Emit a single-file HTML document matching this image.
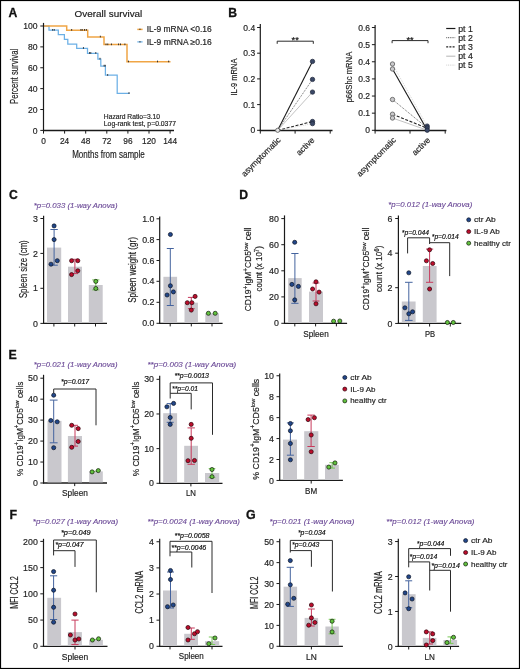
<!DOCTYPE html><html><head><meta charset="utf-8"><style>html,body{margin:0;padding:0;background:#fff}svg{display:block;will-change:transform}text{font-family:"Liberation Sans", sans-serif}</style></head><body>
<svg width="520" height="669" viewBox="0 0 520 669">
<rect x="0" y="0" width="520" height="669" fill="#fff"/>
<text x="8.60" y="17.30" font-size="12.2" fill="#111" font-weight="bold" stroke="#111" stroke-width="0.3">A</text>
<text x="74.60" y="16.90" font-size="9.8" fill="#1a1a1a" textLength="67.70" lengthAdjust="spacingAndGlyphs" stroke="#1a1a1a" stroke-width="0.18">Overall survival</text>
<path d="M43.5 26.0 L49.0 26.0 L49.0 30.2 L58.3 30.2 L58.3 34.5 L64.4 34.5 L64.4 39.4 L67.8 39.4 L67.8 44.0 L76.7 44.0 L76.7 48.4 L87.5 48.4 L87.5 53.3 L97.9 53.3 L97.9 59.0 L100.8 59.0 L100.8 66.0 L105.4 66.0 L105.4 75.2 L117.2 75.2 L117.2 93.3 L129.6 93.3" stroke="#6cb0e6" stroke-width="1.25" fill="none"/>
<path d="M43.5 26.0 L66.7 26.0 L66.7 30.2 L87.7 30.2 L87.7 36.9 L104.0 36.9 L104.0 44.6 L127.0 44.6 L127.0 61.7 L170.5 61.7" stroke="#f0a545" stroke-width="1.5" fill="none"/>
<rect x="52.25" y="29.00" width="0.90" height="1.70" fill="#222"/>
<rect x="53.75" y="29.00" width="0.90" height="1.70" fill="#222"/>
<rect x="71.25" y="29.00" width="0.90" height="1.70" fill="#222"/>
<rect x="80.45" y="29.00" width="0.90" height="1.70" fill="#222"/>
<rect x="81.75" y="29.00" width="0.90" height="1.70" fill="#222"/>
<rect x="84.05" y="29.00" width="0.90" height="1.70" fill="#222"/>
<rect x="85.85" y="29.00" width="0.90" height="1.70" fill="#222"/>
<rect x="99.85" y="35.70" width="0.90" height="1.70" fill="#222"/>
<rect x="105.55" y="43.50" width="0.90" height="1.70" fill="#222"/>
<rect x="107.35" y="43.50" width="0.90" height="1.70" fill="#222"/>
<rect x="110.95" y="43.50" width="0.90" height="1.70" fill="#222"/>
<rect x="118.15" y="43.50" width="0.90" height="1.70" fill="#222"/>
<rect x="120.05" y="43.50" width="0.90" height="1.70" fill="#222"/>
<rect x="124.45" y="43.50" width="0.90" height="1.70" fill="#222"/>
<rect x="127.95" y="60.60" width="0.90" height="1.70" fill="#222"/>
<rect x="157.05" y="60.60" width="0.90" height="1.70" fill="#222"/>
<rect x="168.25" y="60.60" width="0.90" height="1.70" fill="#222"/>
<rect x="82.95" y="47.10" width="0.90" height="1.70" fill="#222"/>
<rect x="89.15" y="52.10" width="0.90" height="1.70" fill="#222"/>
<rect x="90.35" y="52.10" width="0.90" height="1.70" fill="#222"/>
<rect x="95.35" y="52.10" width="0.90" height="1.70" fill="#222"/>
<rect x="99.55" y="57.80" width="0.90" height="1.70" fill="#222"/>
<rect x="103.65" y="64.80" width="0.90" height="1.70" fill="#222"/>
<rect x="104.75" y="64.80" width="0.90" height="1.70" fill="#222"/>
<rect x="107.25" y="74.10" width="0.90" height="1.70" fill="#222"/>
<rect x="128.55" y="92.20" width="0.90" height="1.70" fill="#222"/>
<line x1="43.50" y1="22.90" x2="43.50" y2="131.00" stroke="#1a1a1a" stroke-width="1.2"/>
<line x1="40.30" y1="130.40" x2="43.50" y2="130.40" stroke="#1a1a1a" stroke-width="1.0"/>
<text x="37.60" y="133.50" font-size="8.6" text-anchor="end" fill="#1f1f1f" stroke="#1f1f1f" stroke-width="0.18">0</text>
<line x1="40.30" y1="109.52" x2="43.50" y2="109.52" stroke="#1a1a1a" stroke-width="1.0"/>
<text x="37.60" y="112.62" font-size="8.6" text-anchor="end" fill="#1f1f1f" stroke="#1f1f1f" stroke-width="0.18">20</text>
<line x1="40.30" y1="88.64" x2="43.50" y2="88.64" stroke="#1a1a1a" stroke-width="1.0"/>
<text x="37.60" y="91.74" font-size="8.6" text-anchor="end" fill="#1f1f1f" stroke="#1f1f1f" stroke-width="0.18">40</text>
<line x1="40.30" y1="67.76" x2="43.50" y2="67.76" stroke="#1a1a1a" stroke-width="1.0"/>
<text x="37.60" y="70.86" font-size="8.6" text-anchor="end" fill="#1f1f1f" stroke="#1f1f1f" stroke-width="0.18">60</text>
<line x1="40.30" y1="46.88" x2="43.50" y2="46.88" stroke="#1a1a1a" stroke-width="1.0"/>
<text x="37.60" y="49.98" font-size="8.6" text-anchor="end" fill="#1f1f1f" stroke="#1f1f1f" stroke-width="0.18">80</text>
<line x1="40.30" y1="26.00" x2="43.50" y2="26.00" stroke="#1a1a1a" stroke-width="1.0"/>
<text x="37.60" y="29.10" font-size="8.6" text-anchor="end" fill="#1f1f1f" stroke="#1f1f1f" stroke-width="0.18">100</text>
<line x1="42.90" y1="130.50" x2="174.00" y2="130.50" stroke="#1a1a1a" stroke-width="1.3"/>
<line x1="43.50" y1="130.50" x2="43.50" y2="133.60" stroke="#1a1a1a" stroke-width="1.0"/>
<line x1="64.60" y1="130.50" x2="64.60" y2="133.60" stroke="#1a1a1a" stroke-width="1.0"/>
<line x1="85.70" y1="130.50" x2="85.70" y2="133.60" stroke="#1a1a1a" stroke-width="1.0"/>
<line x1="106.80" y1="130.50" x2="106.80" y2="133.60" stroke="#1a1a1a" stroke-width="1.0"/>
<line x1="127.90" y1="130.50" x2="127.90" y2="133.60" stroke="#1a1a1a" stroke-width="1.0"/>
<line x1="149.00" y1="130.50" x2="149.00" y2="133.60" stroke="#1a1a1a" stroke-width="1.0"/>
<line x1="170.10" y1="130.50" x2="170.10" y2="133.60" stroke="#1a1a1a" stroke-width="1.0"/>
<text x="43.50" y="144.10" font-size="8.3" text-anchor="middle" fill="#1f1f1f" stroke="#1f1f1f" stroke-width="0.18">0</text>
<text x="64.60" y="144.10" font-size="8.3" text-anchor="middle" fill="#1f1f1f" stroke="#1f1f1f" stroke-width="0.18">24</text>
<text x="85.70" y="144.10" font-size="8.3" text-anchor="middle" fill="#1f1f1f" stroke="#1f1f1f" stroke-width="0.18">48</text>
<text x="106.80" y="144.10" font-size="8.3" text-anchor="middle" fill="#1f1f1f" stroke="#1f1f1f" stroke-width="0.18">72</text>
<text x="127.90" y="144.10" font-size="8.3" text-anchor="middle" fill="#1f1f1f" stroke="#1f1f1f" stroke-width="0.18">96</text>
<text x="149.00" y="144.10" font-size="8.3" text-anchor="middle" fill="#1f1f1f" stroke="#1f1f1f" stroke-width="0.18">120</text>
<text x="170.10" y="144.10" font-size="8.3" text-anchor="middle" fill="#1f1f1f" stroke="#1f1f1f" stroke-width="0.18">144</text>
<text x="108.50" y="157.90" font-size="10" text-anchor="middle" fill="#1f1f1f" textLength="72.60" lengthAdjust="spacingAndGlyphs" stroke="#1f1f1f" stroke-width="0.18">Months from sample</text>
<text x="17.60" y="76.40" font-size="10" text-anchor="middle" fill="#1f1f1f" textLength="55.30" lengthAdjust="spacingAndGlyphs" transform="rotate(-90 17.60 76.40)" stroke="#1f1f1f" stroke-width="0.18">Percent survival</text>
<line x1="137.30" y1="29.40" x2="142.60" y2="29.40" stroke="#f0a545" stroke-width="1.5"/>
<rect x="139.50" y="28.60" width="0.90" height="1.40" fill="#222"/>
<line x1="137.30" y1="41.90" x2="142.60" y2="41.90" stroke="#6cb0e6" stroke-width="1.2"/>
<rect x="139.50" y="41.10" width="0.90" height="1.40" fill="#222"/>
<text x="146.70" y="32.40" font-size="8.3" fill="#1f1f1f" textLength="65.00" lengthAdjust="spacingAndGlyphs" stroke="#1f1f1f" stroke-width="0.18">IL-9 mRNA &lt;0.16</text>
<text x="146.70" y="44.60" font-size="8.3" fill="#1f1f1f" textLength="65.00" lengthAdjust="spacingAndGlyphs" stroke="#1f1f1f" stroke-width="0.18">IL-9 mRNA &#8805;0.16</text>
<text x="103.80" y="119.00" font-size="6.7" fill="#1f1f1f" textLength="56.30" lengthAdjust="spacingAndGlyphs" stroke="#1f1f1f" stroke-width="0.18">Hazard Ratio=3.10</text>
<text x="103.80" y="126.30" font-size="6.7" fill="#1f1f1f" textLength="72.20" lengthAdjust="spacingAndGlyphs" stroke="#1f1f1f" stroke-width="0.18">Log-rank test, p=0.0377</text>
<text x="228.20" y="17.20" font-size="12.2" fill="#111" font-weight="bold" stroke="#111" stroke-width="0.3">B</text>
<line x1="260.30" y1="23.90" x2="260.30" y2="131.00" stroke="#1a1a1a" stroke-width="1.2"/>
<line x1="257.10" y1="130.30" x2="260.30" y2="130.30" stroke="#1a1a1a" stroke-width="1.0"/>
<text x="255.20" y="133.36" font-size="8.5" text-anchor="end" fill="#1f1f1f" stroke="#1f1f1f" stroke-width="0.18">0</text>
<line x1="257.10" y1="104.60" x2="260.30" y2="104.60" stroke="#1a1a1a" stroke-width="1.0"/>
<text x="255.20" y="107.66" font-size="8.5" text-anchor="end" fill="#1f1f1f" stroke="#1f1f1f" stroke-width="0.18">0.1</text>
<line x1="257.10" y1="78.90" x2="260.30" y2="78.90" stroke="#1a1a1a" stroke-width="1.0"/>
<text x="255.20" y="81.96" font-size="8.5" text-anchor="end" fill="#1f1f1f" stroke="#1f1f1f" stroke-width="0.18">0.2</text>
<line x1="257.10" y1="53.20" x2="260.30" y2="53.20" stroke="#1a1a1a" stroke-width="1.0"/>
<text x="255.20" y="56.26" font-size="8.5" text-anchor="end" fill="#1f1f1f" stroke="#1f1f1f" stroke-width="0.18">0.3</text>
<line x1="257.10" y1="27.50" x2="260.30" y2="27.50" stroke="#1a1a1a" stroke-width="1.0"/>
<text x="255.20" y="30.56" font-size="8.5" text-anchor="end" fill="#1f1f1f" stroke="#1f1f1f" stroke-width="0.18">0.4</text>
<line x1="259.70" y1="130.50" x2="332.50" y2="130.50" stroke="#1a1a1a" stroke-width="1.3"/>
<line x1="260.30" y1="130.50" x2="260.30" y2="133.60" stroke="#1a1a1a" stroke-width="1.0"/>
<line x1="295.10" y1="130.50" x2="295.10" y2="133.60" stroke="#1a1a1a" stroke-width="1.0"/>
<line x1="330.20" y1="130.50" x2="330.20" y2="133.60" stroke="#1a1a1a" stroke-width="1.0"/>
<text x="295.20" y="42.90" font-size="9.2" text-anchor="middle" stroke="#222" stroke-width="0.18">**</text>
<path d="M277.20 43.80 V41.20 H313.30 V43.80" stroke="#2a2a2a" stroke-width="1.0" fill="none"/>
<line x1="277.70" y1="130.30" x2="312.50" y2="61.40" stroke="#1a1a1a" stroke-width="1.1"/>
<line x1="277.70" y1="130.30" x2="312.50" y2="79.40" stroke="#444" stroke-width="0.8" stroke-dasharray="1 1"/>
<line x1="277.70" y1="130.30" x2="312.50" y2="92.10" stroke="#bbb" stroke-width="0.9"/>
<line x1="277.70" y1="130.30" x2="312.50" y2="121.50" stroke="#222" stroke-width="1.1" stroke-dasharray="3 1.6"/>
<line x1="277.70" y1="130.30" x2="312.50" y2="123.60" stroke="#ccc" stroke-width="0.8" stroke-dasharray="1 1"/>
<circle cx="312.50" cy="61.40" r="2.2" fill="#3a4866" stroke="#1c2438" stroke-width="0.7"/>
<circle cx="312.50" cy="79.40" r="2.2" fill="#3a4866" stroke="#1c2438" stroke-width="0.7"/>
<circle cx="312.50" cy="92.10" r="2.2" fill="#3a4866" stroke="#1c2438" stroke-width="0.7"/>
<circle cx="312.50" cy="121.50" r="2.2" fill="#3a4866" stroke="#1c2438" stroke-width="0.7"/>
<circle cx="312.50" cy="123.60" r="2.2" fill="#3a4866" stroke="#1c2438" stroke-width="0.7"/>
<circle cx="277.70" cy="130.30" r="2.1" fill="#e6e6e6" stroke="#555" stroke-width="0.8"/>
<text x="281.20" y="140.60" font-size="8.4" text-anchor="end" fill="#1f1f1f" transform="rotate(-45 281.20 140.60)" stroke="#1f1f1f" stroke-width="0.18">asymptomatic</text>
<text x="315.00" y="140.60" font-size="8.4" text-anchor="end" fill="#1f1f1f" transform="rotate(-45 315.00 140.60)" stroke="#1f1f1f" stroke-width="0.18">active</text>
<text x="236.60" y="77.10" font-size="9.4" text-anchor="middle" fill="#1f1f1f" textLength="37.00" lengthAdjust="spacingAndGlyphs" transform="rotate(-90 236.60 77.10)" stroke="#1f1f1f" stroke-width="0.18">IL-9 mRNA</text>
<line x1="375.10" y1="25.00" x2="375.10" y2="131.00" stroke="#1a1a1a" stroke-width="1.2"/>
<line x1="371.90" y1="130.30" x2="375.10" y2="130.30" stroke="#1a1a1a" stroke-width="1.0"/>
<text x="370.00" y="133.36" font-size="8.5" text-anchor="end" fill="#1f1f1f" stroke="#1f1f1f" stroke-width="0.18">0</text>
<line x1="371.90" y1="113.17" x2="375.10" y2="113.17" stroke="#1a1a1a" stroke-width="1.0"/>
<text x="370.00" y="116.23" font-size="8.5" text-anchor="end" fill="#1f1f1f" stroke="#1f1f1f" stroke-width="0.18">0.1</text>
<line x1="371.90" y1="96.04" x2="375.10" y2="96.04" stroke="#1a1a1a" stroke-width="1.0"/>
<text x="370.00" y="99.10" font-size="8.5" text-anchor="end" fill="#1f1f1f" stroke="#1f1f1f" stroke-width="0.18">0.2</text>
<line x1="371.90" y1="78.91" x2="375.10" y2="78.91" stroke="#1a1a1a" stroke-width="1.0"/>
<text x="370.00" y="81.97" font-size="8.5" text-anchor="end" fill="#1f1f1f" stroke="#1f1f1f" stroke-width="0.18">0.3</text>
<line x1="371.90" y1="61.78" x2="375.10" y2="61.78" stroke="#1a1a1a" stroke-width="1.0"/>
<text x="370.00" y="64.84" font-size="8.5" text-anchor="end" fill="#1f1f1f" stroke="#1f1f1f" stroke-width="0.18">0.4</text>
<line x1="371.90" y1="44.65" x2="375.10" y2="44.65" stroke="#1a1a1a" stroke-width="1.0"/>
<text x="370.00" y="47.71" font-size="8.5" text-anchor="end" fill="#1f1f1f" stroke="#1f1f1f" stroke-width="0.18">0.5</text>
<line x1="371.90" y1="27.52" x2="375.10" y2="27.52" stroke="#1a1a1a" stroke-width="1.0"/>
<text x="370.00" y="30.58" font-size="8.5" text-anchor="end" fill="#1f1f1f" stroke="#1f1f1f" stroke-width="0.18">0.6</text>
<line x1="374.50" y1="130.50" x2="446.40" y2="130.50" stroke="#1a1a1a" stroke-width="1.3"/>
<line x1="375.10" y1="130.50" x2="375.10" y2="133.60" stroke="#1a1a1a" stroke-width="1.0"/>
<line x1="410.00" y1="130.50" x2="410.00" y2="133.60" stroke="#1a1a1a" stroke-width="1.0"/>
<line x1="445.20" y1="130.50" x2="445.20" y2="133.60" stroke="#1a1a1a" stroke-width="1.0"/>
<text x="410.10" y="42.50" font-size="9.2" text-anchor="middle" stroke="#222" stroke-width="0.18">**</text>
<path d="M392.10 43.20 V40.60 H428.00 V43.20" stroke="#2a2a2a" stroke-width="1.0" fill="none"/>
<line x1="392.50" y1="64.00" x2="427.20" y2="126.20" stroke="#ccc" stroke-width="0.8" stroke-dasharray="1 1"/>
<line x1="392.50" y1="69.00" x2="427.20" y2="130.00" stroke="#1a1a1a" stroke-width="1.1"/>
<line x1="392.50" y1="99.50" x2="427.20" y2="128.00" stroke="#444" stroke-width="0.8" stroke-dasharray="1 1"/>
<line x1="392.50" y1="114.20" x2="427.20" y2="128.30" stroke="#222" stroke-width="1.1" stroke-dasharray="3 1.6"/>
<line x1="392.50" y1="118.00" x2="427.20" y2="130.20" stroke="#bbb" stroke-width="0.9"/>
<circle cx="392.50" cy="64.00" r="2.2" fill="#c9c9cb" stroke="#5a5a5a" stroke-width="0.8"/>
<circle cx="392.50" cy="69.00" r="2.2" fill="#c9c9cb" stroke="#5a5a5a" stroke-width="0.8"/>
<circle cx="392.50" cy="99.50" r="2.2" fill="#c9c9cb" stroke="#5a5a5a" stroke-width="0.8"/>
<circle cx="392.50" cy="114.20" r="2.2" fill="#c9c9cb" stroke="#5a5a5a" stroke-width="0.8"/>
<circle cx="392.50" cy="118.00" r="2.2" fill="#c9c9cb" stroke="#5a5a5a" stroke-width="0.8"/>
<circle cx="427.20" cy="126.10" r="2.2" fill="#3a4866" stroke="#1c2438" stroke-width="0.7"/>
<circle cx="427.20" cy="127.90" r="2.2" fill="#3a4866" stroke="#1c2438" stroke-width="0.7"/>
<circle cx="427.20" cy="130.20" r="2.2" fill="#3a4866" stroke="#1c2438" stroke-width="0.7"/>
<text x="396.60" y="140.60" font-size="8.4" text-anchor="end" fill="#1f1f1f" transform="rotate(-45 396.60 140.60)" stroke="#1f1f1f" stroke-width="0.18">asymptomatic</text>
<text x="430.80" y="140.60" font-size="8.4" text-anchor="end" fill="#1f1f1f" transform="rotate(-45 430.80 140.60)" stroke="#1f1f1f" stroke-width="0.18">active</text>
<text x="352.30" y="77.10" font-size="8.2" text-anchor="middle" fill="#1f1f1f" textLength="50.80" lengthAdjust="spacingAndGlyphs" transform="rotate(-90 352.30 77.10)" stroke="#1f1f1f" stroke-width="0.18">p66Shc mRNA</text>
<line x1="446.20" y1="28.50" x2="455.40" y2="28.50" stroke="#1a1a1a" stroke-width="1.2"/>
<text x="458.20" y="31.50" font-size="8.2" fill="#1f1f1f" textLength="14.60" lengthAdjust="spacingAndGlyphs" stroke="#1f1f1f" stroke-width="0.18">pt 1</text>
<line x1="446.20" y1="37.70" x2="455.40" y2="37.70" stroke="#444" stroke-width="0.9" stroke-dasharray="1 0.8"/>
<text x="458.20" y="40.70" font-size="8.2" fill="#1f1f1f" textLength="14.60" lengthAdjust="spacingAndGlyphs" stroke="#1f1f1f" stroke-width="0.18">pt 2</text>
<line x1="446.20" y1="46.90" x2="455.40" y2="46.90" stroke="#222" stroke-width="1.3" stroke-dasharray="2 1.2"/>
<text x="458.20" y="49.90" font-size="8.2" fill="#1f1f1f" textLength="14.60" lengthAdjust="spacingAndGlyphs" stroke="#1f1f1f" stroke-width="0.18">pt 3</text>
<line x1="446.20" y1="56.20" x2="455.40" y2="56.20" stroke="#bbb" stroke-width="1.1"/>
<text x="458.20" y="59.20" font-size="8.2" fill="#1f1f1f" textLength="14.60" lengthAdjust="spacingAndGlyphs" stroke="#1f1f1f" stroke-width="0.18">pt 4</text>
<line x1="446.20" y1="65.10" x2="455.40" y2="65.10" stroke="#ccc" stroke-width="0.9" stroke-dasharray="1 0.8"/>
<text x="458.20" y="68.10" font-size="8.2" fill="#1f1f1f" textLength="14.60" lengthAdjust="spacingAndGlyphs" stroke="#1f1f1f" stroke-width="0.18">pt 5</text>
<text x="9.00" y="199.30" font-size="12.2" fill="#111" font-weight="bold" stroke="#111" stroke-width="0.3">C</text>
<text x="33.75" y="207.50" font-size="7.7" fill="#6a4896" font-style="italic" textLength="83.75" lengthAdjust="spacingAndGlyphs" stroke="#6a4896" stroke-width="0.12">*p=0.033 (1-way Anova)</text>
<line x1="43.60" y1="215.70" x2="43.60" y2="323.90" stroke="#1a1a1a" stroke-width="1.2"/>
<line x1="40.40" y1="218.50" x2="43.60" y2="218.50" stroke="#1a1a1a" stroke-width="1.0"/>
<text x="37.90" y="221.67" font-size="8.8" text-anchor="end" fill="#1f1f1f" stroke="#1f1f1f" stroke-width="0.18">3</text>
<line x1="40.40" y1="253.40" x2="43.60" y2="253.40" stroke="#1a1a1a" stroke-width="1.0"/>
<text x="37.90" y="256.57" font-size="8.8" text-anchor="end" fill="#1f1f1f" stroke="#1f1f1f" stroke-width="0.18">2</text>
<line x1="40.40" y1="288.30" x2="43.60" y2="288.30" stroke="#1a1a1a" stroke-width="1.0"/>
<text x="37.90" y="291.47" font-size="8.8" text-anchor="end" fill="#1f1f1f" stroke="#1f1f1f" stroke-width="0.18">1</text>
<line x1="40.40" y1="323.40" x2="43.60" y2="323.40" stroke="#1a1a1a" stroke-width="1.0"/>
<text x="37.90" y="326.57" font-size="8.8" text-anchor="end" fill="#1f1f1f" stroke="#1f1f1f" stroke-width="0.18">0</text>
<line x1="43.00" y1="323.40" x2="107.00" y2="323.40" stroke="#1a1a1a" stroke-width="1.3"/>
<line x1="53.90" y1="323.40" x2="53.90" y2="326.50" stroke="#1a1a1a" stroke-width="1.0"/>
<line x1="74.70" y1="323.40" x2="74.70" y2="326.50" stroke="#1a1a1a" stroke-width="1.0"/>
<line x1="95.50" y1="323.40" x2="95.50" y2="326.50" stroke="#1a1a1a" stroke-width="1.0"/>
<rect x="47.00" y="247.60" width="14.20" height="75.20" fill="#c9c8cd"/>
<rect x="68.00" y="266.70" width="14.00" height="56.10" fill="#c9c8cd"/>
<rect x="88.80" y="285.00" width="13.90" height="37.80" fill="#c9c8cd"/>
<line x1="54.10" y1="229.50" x2="54.10" y2="265.20" stroke="#44639e" stroke-width="1.0"/>
<line x1="50.40" y1="229.50" x2="57.80" y2="229.50" stroke="#44639e" stroke-width="1.0"/>
<line x1="50.40" y1="265.20" x2="57.80" y2="265.20" stroke="#44639e" stroke-width="1.0"/>
<circle cx="54.10" cy="225.90" r="2.05" fill="#22478a" stroke="#0a1224" stroke-width="0.7"/>
<circle cx="54.10" cy="239.60" r="2.05" fill="#22478a" stroke="#0a1224" stroke-width="0.7"/>
<circle cx="57.30" cy="260.70" r="2.05" fill="#22478a" stroke="#0a1224" stroke-width="0.7"/>
<circle cx="51.00" cy="264.20" r="2.05" fill="#22478a" stroke="#0a1224" stroke-width="0.7"/>
<line x1="74.90" y1="259.30" x2="74.90" y2="273.60" stroke="#c83a5c" stroke-width="1.0"/>
<line x1="71.70" y1="259.30" x2="78.10" y2="259.30" stroke="#c83a5c" stroke-width="1.0"/>
<line x1="71.70" y1="273.60" x2="78.10" y2="273.60" stroke="#c83a5c" stroke-width="1.0"/>
<circle cx="71.60" cy="260.70" r="2.05" fill="#bc0e2c" stroke="#2a0008" stroke-width="0.7"/>
<circle cx="77.80" cy="260.70" r="2.05" fill="#bc0e2c" stroke="#2a0008" stroke-width="0.7"/>
<circle cx="77.80" cy="270.80" r="2.05" fill="#bc0e2c" stroke="#2a0008" stroke-width="0.7"/>
<circle cx="71.60" cy="274.60" r="2.05" fill="#bc0e2c" stroke="#2a0008" stroke-width="0.7"/>
<line x1="95.80" y1="279.90" x2="95.80" y2="289.90" stroke="#78c858" stroke-width="1.0"/>
<line x1="92.20" y1="279.90" x2="99.40" y2="279.90" stroke="#78c858" stroke-width="1.0"/>
<line x1="92.20" y1="289.90" x2="99.40" y2="289.90" stroke="#78c858" stroke-width="1.0"/>
<circle cx="95.80" cy="281.40" r="2.05" fill="#62c23e" stroke="#0e1a08" stroke-width="0.7"/>
<circle cx="95.80" cy="288.50" r="2.05" fill="#62c23e" stroke="#0e1a08" stroke-width="0.7"/>
<text x="26.60" y="269.20" font-size="10" text-anchor="middle" fill="#1f1f1f" textLength="57.80" lengthAdjust="spacingAndGlyphs" transform="rotate(-90 26.60 269.20)" stroke="#1f1f1f" stroke-width="0.18">Spleen size (cm)</text>
<line x1="159.70" y1="216.60" x2="159.70" y2="323.80" stroke="#1a1a1a" stroke-width="1.2"/>
<line x1="156.50" y1="218.80" x2="159.70" y2="218.80" stroke="#1a1a1a" stroke-width="1.0"/>
<text x="154.40" y="221.97" font-size="8.8" text-anchor="end" fill="#1f1f1f" stroke="#1f1f1f" stroke-width="0.18">1.0</text>
<line x1="156.50" y1="239.60" x2="159.70" y2="239.60" stroke="#1a1a1a" stroke-width="1.0"/>
<text x="154.40" y="242.77" font-size="8.8" text-anchor="end" fill="#1f1f1f" stroke="#1f1f1f" stroke-width="0.18">0.8</text>
<line x1="156.50" y1="260.50" x2="159.70" y2="260.50" stroke="#1a1a1a" stroke-width="1.0"/>
<text x="154.40" y="263.67" font-size="8.8" text-anchor="end" fill="#1f1f1f" stroke="#1f1f1f" stroke-width="0.18">0.6</text>
<line x1="156.50" y1="281.30" x2="159.70" y2="281.30" stroke="#1a1a1a" stroke-width="1.0"/>
<text x="154.40" y="284.47" font-size="8.8" text-anchor="end" fill="#1f1f1f" stroke="#1f1f1f" stroke-width="0.18">0.4</text>
<line x1="156.50" y1="302.30" x2="159.70" y2="302.30" stroke="#1a1a1a" stroke-width="1.0"/>
<text x="154.40" y="305.47" font-size="8.8" text-anchor="end" fill="#1f1f1f" stroke="#1f1f1f" stroke-width="0.18">0.2</text>
<line x1="156.50" y1="323.30" x2="159.70" y2="323.30" stroke="#1a1a1a" stroke-width="1.0"/>
<text x="154.40" y="326.47" font-size="8.8" text-anchor="end" fill="#1f1f1f" stroke="#1f1f1f" stroke-width="0.18">0.0</text>
<line x1="159.10" y1="323.30" x2="222.60" y2="323.30" stroke="#1a1a1a" stroke-width="1.3"/>
<line x1="170.20" y1="323.30" x2="170.20" y2="326.40" stroke="#1a1a1a" stroke-width="1.0"/>
<line x1="191.30" y1="323.30" x2="191.30" y2="326.40" stroke="#1a1a1a" stroke-width="1.0"/>
<line x1="212.00" y1="323.30" x2="212.00" y2="326.40" stroke="#1a1a1a" stroke-width="1.0"/>
<rect x="163.40" y="276.80" width="13.70" height="45.90" fill="#c9c8cd"/>
<rect x="184.50" y="302.70" width="13.40" height="20.00" fill="#c9c8cd"/>
<rect x="205.30" y="313.30" width="13.70" height="9.40" fill="#c9c8cd"/>
<line x1="170.30" y1="248.50" x2="170.30" y2="305.50" stroke="#44639e" stroke-width="1.0"/>
<line x1="166.80" y1="248.50" x2="173.80" y2="248.50" stroke="#44639e" stroke-width="1.0"/>
<line x1="166.80" y1="305.50" x2="173.80" y2="305.50" stroke="#44639e" stroke-width="1.0"/>
<circle cx="170.40" cy="234.50" r="2.05" fill="#22478a" stroke="#0a1224" stroke-width="0.7"/>
<circle cx="170.40" cy="285.80" r="2.05" fill="#22478a" stroke="#0a1224" stroke-width="0.7"/>
<circle cx="173.40" cy="291.90" r="2.05" fill="#22478a" stroke="#0a1224" stroke-width="0.7"/>
<circle cx="167.10" cy="295.00" r="2.05" fill="#22478a" stroke="#0a1224" stroke-width="0.7"/>
<line x1="191.30" y1="297.40" x2="191.30" y2="308.70" stroke="#c83a5c" stroke-width="1.0"/>
<line x1="187.90" y1="297.40" x2="194.70" y2="297.40" stroke="#c83a5c" stroke-width="1.0"/>
<line x1="187.90" y1="308.70" x2="194.70" y2="308.70" stroke="#c83a5c" stroke-width="1.0"/>
<circle cx="195.10" cy="296.40" r="2.05" fill="#bc0e2c" stroke="#2a0008" stroke-width="0.7"/>
<circle cx="187.30" cy="302.70" r="2.05" fill="#bc0e2c" stroke="#2a0008" stroke-width="0.7"/>
<circle cx="191.90" cy="302.70" r="2.05" fill="#bc0e2c" stroke="#2a0008" stroke-width="0.7"/>
<circle cx="191.30" cy="310.10" r="2.05" fill="#bc0e2c" stroke="#2a0008" stroke-width="0.7"/>
<circle cx="208.40" cy="313.30" r="2.05" fill="#62c23e" stroke="#0e1a08" stroke-width="0.7"/>
<circle cx="215.20" cy="313.30" r="2.05" fill="#62c23e" stroke="#0e1a08" stroke-width="0.7"/>
<text x="136.00" y="270.00" font-size="10" text-anchor="middle" fill="#1f1f1f" textLength="65.70" lengthAdjust="spacingAndGlyphs" transform="rotate(-90 136.00 270.00)" stroke="#1f1f1f" stroke-width="0.18">Spleen weight (gr)</text>
<text x="239.20" y="199.00" font-size="12.2" fill="#111" font-weight="bold" stroke="#111" stroke-width="0.3">D</text>
<line x1="284.50" y1="215.40" x2="284.50" y2="323.80" stroke="#1a1a1a" stroke-width="1.2"/>
<line x1="281.30" y1="218.60" x2="284.50" y2="218.60" stroke="#1a1a1a" stroke-width="1.0"/>
<text x="278.80" y="221.77" font-size="8.8" text-anchor="end" fill="#1f1f1f" stroke="#1f1f1f" stroke-width="0.18">80</text>
<line x1="281.30" y1="244.70" x2="284.50" y2="244.70" stroke="#1a1a1a" stroke-width="1.0"/>
<text x="278.80" y="247.87" font-size="8.8" text-anchor="end" fill="#1f1f1f" stroke="#1f1f1f" stroke-width="0.18">60</text>
<line x1="281.30" y1="270.80" x2="284.50" y2="270.80" stroke="#1a1a1a" stroke-width="1.0"/>
<text x="278.80" y="273.97" font-size="8.8" text-anchor="end" fill="#1f1f1f" stroke="#1f1f1f" stroke-width="0.18">40</text>
<line x1="281.30" y1="296.90" x2="284.50" y2="296.90" stroke="#1a1a1a" stroke-width="1.0"/>
<text x="278.80" y="300.07" font-size="8.8" text-anchor="end" fill="#1f1f1f" stroke="#1f1f1f" stroke-width="0.18">20</text>
<line x1="281.30" y1="323.30" x2="284.50" y2="323.30" stroke="#1a1a1a" stroke-width="1.0"/>
<text x="278.80" y="326.47" font-size="8.8" text-anchor="end" fill="#1f1f1f" stroke="#1f1f1f" stroke-width="0.18">0</text>
<line x1="283.90" y1="323.30" x2="347.10" y2="323.30" stroke="#1a1a1a" stroke-width="1.3"/>
<line x1="294.80" y1="323.30" x2="294.80" y2="326.40" stroke="#1a1a1a" stroke-width="1.0"/>
<line x1="315.60" y1="323.30" x2="315.60" y2="326.40" stroke="#1a1a1a" stroke-width="1.0"/>
<line x1="336.40" y1="323.30" x2="336.40" y2="326.40" stroke="#1a1a1a" stroke-width="1.0"/>
<rect x="288.20" y="278.10" width="13.50" height="44.60" fill="#c9c8cd"/>
<rect x="309.00" y="291.60" width="14.00" height="31.10" fill="#c9c8cd"/>
<line x1="294.90" y1="253.50" x2="294.90" y2="303.30" stroke="#44639e" stroke-width="1.0"/>
<line x1="291.30" y1="253.50" x2="298.50" y2="253.50" stroke="#44639e" stroke-width="1.0"/>
<line x1="291.30" y1="303.30" x2="298.50" y2="303.30" stroke="#44639e" stroke-width="1.0"/>
<circle cx="294.70" cy="242.30" r="2.05" fill="#22478a" stroke="#0a1224" stroke-width="0.7"/>
<circle cx="291.90" cy="284.40" r="2.05" fill="#22478a" stroke="#0a1224" stroke-width="0.7"/>
<circle cx="298.40" cy="286.40" r="2.05" fill="#22478a" stroke="#0a1224" stroke-width="0.7"/>
<circle cx="294.70" cy="299.90" r="2.05" fill="#22478a" stroke="#0a1224" stroke-width="0.7"/>
<line x1="316.00" y1="283.00" x2="316.00" y2="301.00" stroke="#c83a5c" stroke-width="1.0"/>
<line x1="312.60" y1="283.00" x2="319.40" y2="283.00" stroke="#c83a5c" stroke-width="1.0"/>
<line x1="312.60" y1="301.00" x2="319.40" y2="301.00" stroke="#c83a5c" stroke-width="1.0"/>
<circle cx="316.00" cy="281.80" r="2.05" fill="#bc0e2c" stroke="#2a0008" stroke-width="0.7"/>
<circle cx="312.60" cy="289.00" r="2.05" fill="#bc0e2c" stroke="#2a0008" stroke-width="0.7"/>
<circle cx="319.10" cy="292.10" r="2.05" fill="#bc0e2c" stroke="#2a0008" stroke-width="0.7"/>
<circle cx="316.00" cy="303.80" r="2.05" fill="#bc0e2c" stroke="#2a0008" stroke-width="0.7"/>
<circle cx="333.60" cy="321.20" r="2.05" fill="#62c23e" stroke="#0e1a08" stroke-width="0.7"/>
<circle cx="339.80" cy="321.00" r="2.05" fill="#62c23e" stroke="#0e1a08" stroke-width="0.7"/>
<text x="316.00" y="336.50" font-size="8.2" text-anchor="middle" fill="#1f1f1f" textLength="25.40" lengthAdjust="spacingAndGlyphs" stroke="#1f1f1f" stroke-width="0.18">Spleen</text>
<text x="251.00" y="269.40" font-size="8.8" text-anchor="middle" fill="#1f1f1f" textLength="83.70" lengthAdjust="spacingAndGlyphs" transform="rotate(-90 251.00 269.40)" stroke="#1f1f1f" stroke-width="0.18">CD19<tspan dy="-3.3" font-size="6.6">+</tspan><tspan dy="3.3">IgM</tspan><tspan dy="-3.3" font-size="6.6">+</tspan><tspan dy="3.3">CD5</tspan><tspan dy="-3.3" font-size="5.8">low</tspan><tspan dy="3.3"> cell</tspan></text>
<text x="262.20" y="268.80" font-size="8.8" text-anchor="middle" fill="#1f1f1f" textLength="45.20" lengthAdjust="spacingAndGlyphs" transform="rotate(-90 262.20 268.80)" stroke="#1f1f1f" stroke-width="0.18">count (x 10<tspan dy="-3.3" font-size="6.6">7</tspan><tspan dy="3.3">)</tspan></text>
<text x="388.30" y="207.40" font-size="7.7" fill="#6a4896" font-style="italic" textLength="84.00" lengthAdjust="spacingAndGlyphs" stroke="#6a4896" stroke-width="0.12">*p=0.012 (1-way Anova)</text>
<line x1="398.40" y1="215.50" x2="398.40" y2="323.95" stroke="#1a1a1a" stroke-width="1.2"/>
<line x1="395.20" y1="218.50" x2="398.40" y2="218.50" stroke="#1a1a1a" stroke-width="1.0"/>
<text x="392.50" y="221.67" font-size="8.8" text-anchor="end" fill="#1f1f1f" stroke="#1f1f1f" stroke-width="0.18">6</text>
<line x1="395.20" y1="253.20" x2="398.40" y2="253.20" stroke="#1a1a1a" stroke-width="1.0"/>
<text x="392.50" y="256.37" font-size="8.8" text-anchor="end" fill="#1f1f1f" stroke="#1f1f1f" stroke-width="0.18">4</text>
<line x1="395.20" y1="287.70" x2="398.40" y2="287.70" stroke="#1a1a1a" stroke-width="1.0"/>
<text x="392.50" y="290.87" font-size="8.8" text-anchor="end" fill="#1f1f1f" stroke="#1f1f1f" stroke-width="0.18">2</text>
<line x1="395.20" y1="323.45" x2="398.40" y2="323.45" stroke="#1a1a1a" stroke-width="1.0"/>
<text x="392.50" y="326.62" font-size="8.8" text-anchor="end" fill="#1f1f1f" stroke="#1f1f1f" stroke-width="0.18">0</text>
<line x1="397.80" y1="323.45" x2="461.20" y2="323.45" stroke="#1a1a1a" stroke-width="1.3"/>
<line x1="408.60" y1="323.45" x2="408.60" y2="326.55" stroke="#1a1a1a" stroke-width="1.0"/>
<line x1="429.60" y1="323.45" x2="429.60" y2="326.55" stroke="#1a1a1a" stroke-width="1.0"/>
<line x1="450.30" y1="323.45" x2="450.30" y2="326.55" stroke="#1a1a1a" stroke-width="1.0"/>
<rect x="401.80" y="301.50" width="13.80" height="21.35" fill="#c9c8cd"/>
<rect x="422.80" y="266.00" width="13.80" height="56.85" fill="#c9c8cd"/>
<line x1="408.80" y1="282.30" x2="408.80" y2="320.40" stroke="#44639e" stroke-width="1.0"/>
<line x1="405.00" y1="282.30" x2="412.60" y2="282.30" stroke="#44639e" stroke-width="1.0"/>
<line x1="405.00" y1="320.40" x2="412.60" y2="320.40" stroke="#44639e" stroke-width="1.0"/>
<circle cx="408.80" cy="272.80" r="2.05" fill="#22478a" stroke="#0a1224" stroke-width="0.7"/>
<circle cx="404.90" cy="307.80" r="2.05" fill="#22478a" stroke="#0a1224" stroke-width="0.7"/>
<circle cx="412.60" cy="311.80" r="2.05" fill="#22478a" stroke="#0a1224" stroke-width="0.7"/>
<circle cx="408.80" cy="313.80" r="2.05" fill="#22478a" stroke="#0a1224" stroke-width="0.7"/>
<line x1="429.60" y1="249.10" x2="429.60" y2="282.30" stroke="#c83a5c" stroke-width="1.0"/>
<line x1="426.00" y1="249.10" x2="433.20" y2="249.10" stroke="#c83a5c" stroke-width="1.0"/>
<line x1="426.00" y1="282.30" x2="433.20" y2="282.30" stroke="#c83a5c" stroke-width="1.0"/>
<circle cx="429.60" cy="249.80" r="2.05" fill="#bc0e2c" stroke="#2a0008" stroke-width="0.7"/>
<circle cx="426.40" cy="260.80" r="2.05" fill="#bc0e2c" stroke="#2a0008" stroke-width="0.7"/>
<circle cx="432.70" cy="263.50" r="2.05" fill="#bc0e2c" stroke="#2a0008" stroke-width="0.7"/>
<circle cx="429.60" cy="289.00" r="2.05" fill="#bc0e2c" stroke="#2a0008" stroke-width="0.7"/>
<circle cx="447.40" cy="322.50" r="2.05" fill="#62c23e" stroke="#0e1a08" stroke-width="0.7"/>
<circle cx="453.30" cy="322.50" r="2.05" fill="#62c23e" stroke="#0e1a08" stroke-width="0.7"/>
<path d="M407.6 253.4 V237.8 H429.6 V244.0" stroke="#2a2a2a" stroke-width="1.0" fill="none"/>
<path d="M429.6 242.7 H449.7 V276.1" stroke="#2a2a2a" stroke-width="1.0" fill="none"/>
<text x="401.80" y="234.80" font-size="6.7" font-style="italic" textLength="27.30" lengthAdjust="spacingAndGlyphs" stroke="#222" stroke-width="0.18">*p=0.044</text>
<text x="431.80" y="239.30" font-size="6.7" font-style="italic" textLength="26.90" lengthAdjust="spacingAndGlyphs" stroke="#222" stroke-width="0.18">*p=0.014</text>
<text x="369.00" y="269.00" font-size="8.8" text-anchor="middle" fill="#1f1f1f" textLength="82.70" lengthAdjust="spacingAndGlyphs" transform="rotate(-90 369.00 269.00)" stroke="#1f1f1f" stroke-width="0.18">CD19<tspan dy="-3.3" font-size="6.6">+</tspan><tspan dy="3.3">IgM</tspan><tspan dy="-3.3" font-size="6.6">+</tspan><tspan dy="3.3">CD5</tspan><tspan dy="-3.3" font-size="5.8">low</tspan><tspan dy="3.3"> cell</tspan></text>
<text x="382.00" y="268.80" font-size="8.8" text-anchor="middle" fill="#1f1f1f" textLength="46.50" lengthAdjust="spacingAndGlyphs" transform="rotate(-90 382.00 268.80)" stroke="#1f1f1f" stroke-width="0.18">count (x 10<tspan dy="-3.3" font-size="6.6">6</tspan><tspan dy="3.3">)</tspan></text>
<text x="430.00" y="336.50" font-size="8.2" text-anchor="middle" fill="#1f1f1f" textLength="10.20" lengthAdjust="spacingAndGlyphs" stroke="#1f1f1f" stroke-width="0.18">PB</text>
<circle cx="468.70" cy="219.80" r="2.0" fill="#22478a" stroke="#0a1224" stroke-width="0.7"/>
<text x="474.10" y="222.40" font-size="7.6" fill="#1f1f1f" textLength="21.70" lengthAdjust="spacingAndGlyphs" stroke="#1f1f1f" stroke-width="0.18">ctr Ab</text>
<circle cx="468.70" cy="231.60" r="2.0" fill="#bc0e2c" stroke="#2a0008" stroke-width="0.7"/>
<text x="474.10" y="234.20" font-size="7.6" fill="#1f1f1f" textLength="25.70" lengthAdjust="spacingAndGlyphs" stroke="#1f1f1f" stroke-width="0.18">IL-9 Ab</text>
<circle cx="468.70" cy="243.20" r="2.0" fill="#62c23e" stroke="#0e1a08" stroke-width="0.7"/>
<text x="474.10" y="245.80" font-size="7.6" fill="#1f1f1f" textLength="36.70" lengthAdjust="spacingAndGlyphs" stroke="#1f1f1f" stroke-width="0.18">healthy ctr</text>
<text x="8.40" y="358.80" font-size="12.4" fill="#111" font-weight="bold" stroke="#111" stroke-width="0.3">E</text>
<text x="33.75" y="367.20" font-size="7.7" fill="#6a4896" font-style="italic" textLength="83.75" lengthAdjust="spacingAndGlyphs" stroke="#6a4896" stroke-width="0.12">*p=0.021 (1-way Anova)</text>
<line x1="43.55" y1="374.80" x2="43.55" y2="483.50" stroke="#1a1a1a" stroke-width="1.2"/>
<line x1="40.35" y1="483.00" x2="43.55" y2="483.00" stroke="#1a1a1a" stroke-width="1.0"/>
<text x="37.85" y="486.17" font-size="8.8" text-anchor="end" fill="#1f1f1f" stroke="#1f1f1f" stroke-width="0.18">0</text>
<line x1="40.35" y1="462.04" x2="43.55" y2="462.04" stroke="#1a1a1a" stroke-width="1.0"/>
<text x="37.85" y="465.21" font-size="8.8" text-anchor="end" fill="#1f1f1f" stroke="#1f1f1f" stroke-width="0.18">10</text>
<line x1="40.35" y1="441.08" x2="43.55" y2="441.08" stroke="#1a1a1a" stroke-width="1.0"/>
<text x="37.85" y="444.25" font-size="8.8" text-anchor="end" fill="#1f1f1f" stroke="#1f1f1f" stroke-width="0.18">20</text>
<line x1="40.35" y1="420.12" x2="43.55" y2="420.12" stroke="#1a1a1a" stroke-width="1.0"/>
<text x="37.85" y="423.29" font-size="8.8" text-anchor="end" fill="#1f1f1f" stroke="#1f1f1f" stroke-width="0.18">30</text>
<line x1="40.35" y1="399.16" x2="43.55" y2="399.16" stroke="#1a1a1a" stroke-width="1.0"/>
<text x="37.85" y="402.33" font-size="8.8" text-anchor="end" fill="#1f1f1f" stroke="#1f1f1f" stroke-width="0.18">40</text>
<line x1="40.35" y1="378.20" x2="43.55" y2="378.20" stroke="#1a1a1a" stroke-width="1.0"/>
<text x="37.85" y="381.37" font-size="8.8" text-anchor="end" fill="#1f1f1f" stroke="#1f1f1f" stroke-width="0.18">50</text>
<line x1="42.95" y1="483.00" x2="107.00" y2="483.00" stroke="#1a1a1a" stroke-width="1.3"/>
<line x1="74.70" y1="483.00" x2="74.70" y2="486.10" stroke="#1a1a1a" stroke-width="1.0"/>
<rect x="47.50" y="420.90" width="14.00" height="61.50" fill="#c9c8cd"/>
<rect x="67.90" y="436.00" width="14.10" height="46.40" fill="#c9c8cd"/>
<rect x="89.20" y="471.40" width="13.60" height="11.00" fill="#c9c8cd"/>
<path d="M53.7 393.5 V389.0 H96.0 V425.3" stroke="#2a2a2a" stroke-width="1.0" fill="none"/>
<text x="61.10" y="384.00" font-size="6.7" font-style="italic" textLength="28.10" lengthAdjust="spacingAndGlyphs" stroke="#222" stroke-width="0.18">*p=0.017</text>
<line x1="53.70" y1="400.10" x2="53.70" y2="442.80" stroke="#44639e" stroke-width="1.0"/>
<line x1="49.80" y1="400.10" x2="57.60" y2="400.10" stroke="#44639e" stroke-width="1.0"/>
<line x1="49.80" y1="442.80" x2="57.60" y2="442.80" stroke="#44639e" stroke-width="1.0"/>
<circle cx="53.70" cy="395.20" r="2.05" fill="#22478a" stroke="#0a1224" stroke-width="0.7"/>
<circle cx="50.80" cy="420.50" r="2.05" fill="#22478a" stroke="#0a1224" stroke-width="0.7"/>
<circle cx="57.20" cy="421.80" r="2.05" fill="#22478a" stroke="#0a1224" stroke-width="0.7"/>
<circle cx="53.70" cy="447.70" r="2.05" fill="#22478a" stroke="#0a1224" stroke-width="0.7"/>
<line x1="75.00" y1="425.30" x2="75.00" y2="446.10" stroke="#c83a5c" stroke-width="1.0"/>
<line x1="72.00" y1="425.30" x2="78.00" y2="425.30" stroke="#c83a5c" stroke-width="1.0"/>
<line x1="72.00" y1="446.10" x2="78.00" y2="446.10" stroke="#c83a5c" stroke-width="1.0"/>
<circle cx="71.70" cy="425.30" r="2.05" fill="#bc0e2c" stroke="#2a0008" stroke-width="0.7"/>
<circle cx="78.20" cy="428.60" r="2.05" fill="#bc0e2c" stroke="#2a0008" stroke-width="0.7"/>
<circle cx="78.20" cy="441.50" r="2.05" fill="#bc0e2c" stroke="#2a0008" stroke-width="0.7"/>
<circle cx="71.70" cy="447.30" r="2.05" fill="#bc0e2c" stroke="#2a0008" stroke-width="0.7"/>
<line x1="92.10" y1="471.90" x2="98.30" y2="470.60" stroke="#78c858" stroke-width="1.0"/>
<circle cx="92.10" cy="471.90" r="2.05" fill="#62c23e" stroke="#0e1a08" stroke-width="0.7"/>
<circle cx="98.30" cy="470.60" r="2.05" fill="#62c23e" stroke="#0e1a08" stroke-width="0.7"/>
<text x="75.00" y="495.80" font-size="8.2" text-anchor="middle" fill="#1f1f1f" textLength="25.90" lengthAdjust="spacingAndGlyphs" stroke="#1f1f1f" stroke-width="0.18">Spleen</text>
<text x="22.60" y="428.80" font-size="9.6" text-anchor="middle" fill="#1f1f1f" textLength="94.30" lengthAdjust="spacingAndGlyphs" transform="rotate(-90 22.60 428.80)" stroke="#1f1f1f" stroke-width="0.18">% CD19<tspan dy="-3.6" font-size="7.2">+</tspan><tspan dy="3.6">IgM</tspan><tspan dy="-3.6" font-size="7.2">+</tspan><tspan dy="3.6">CD5</tspan><tspan dy="-3.6" font-size="6.2">low</tspan><tspan dy="3.6"> cells</tspan></text>
<text x="147.50" y="367.20" font-size="7.7" fill="#6a4896" font-style="italic" textLength="88.75" lengthAdjust="spacingAndGlyphs" stroke="#6a4896" stroke-width="0.12">**p=0.003 (1-way Anova)</text>
<line x1="159.70" y1="375.80" x2="159.70" y2="483.80" stroke="#1a1a1a" stroke-width="1.2"/>
<line x1="156.50" y1="483.30" x2="159.70" y2="483.30" stroke="#1a1a1a" stroke-width="1.0"/>
<text x="154.00" y="486.47" font-size="8.8" text-anchor="end" fill="#1f1f1f" stroke="#1f1f1f" stroke-width="0.18">0</text>
<line x1="156.50" y1="448.64" x2="159.70" y2="448.64" stroke="#1a1a1a" stroke-width="1.0"/>
<text x="154.00" y="451.81" font-size="8.8" text-anchor="end" fill="#1f1f1f" stroke="#1f1f1f" stroke-width="0.18">10</text>
<line x1="156.50" y1="413.98" x2="159.70" y2="413.98" stroke="#1a1a1a" stroke-width="1.0"/>
<text x="154.00" y="417.15" font-size="8.8" text-anchor="end" fill="#1f1f1f" stroke="#1f1f1f" stroke-width="0.18">20</text>
<line x1="156.50" y1="379.32" x2="159.70" y2="379.32" stroke="#1a1a1a" stroke-width="1.0"/>
<text x="154.00" y="382.49" font-size="8.8" text-anchor="end" fill="#1f1f1f" stroke="#1f1f1f" stroke-width="0.18">30</text>
<line x1="159.10" y1="483.30" x2="222.50" y2="483.30" stroke="#1a1a1a" stroke-width="1.3"/>
<line x1="190.90" y1="483.30" x2="190.90" y2="486.40" stroke="#1a1a1a" stroke-width="1.0"/>
<rect x="163.20" y="413.20" width="13.90" height="69.50" fill="#c9c8cd"/>
<rect x="184.20" y="445.80" width="13.80" height="36.90" fill="#c9c8cd"/>
<rect x="205.00" y="473.00" width="14.20" height="9.70" fill="#c9c8cd"/>
<path d="M170.2 398.5 V382.9 H212.5 V434.8" stroke="#2a2a2a" stroke-width="1.0" fill="none"/>
<path d="M170.2 393.3 H191.2 V409.4" stroke="#2a2a2a" stroke-width="1.0" fill="none"/>
<text x="174.40" y="377.70" font-size="6.7" font-style="italic" textLength="34.60" lengthAdjust="spacingAndGlyphs" stroke="#222" stroke-width="0.18">**p=0.0013</text>
<text x="172.10" y="390.60" font-size="6.7" font-style="italic" textLength="26.00" lengthAdjust="spacingAndGlyphs" stroke="#222" stroke-width="0.18">**p=0.01</text>
<line x1="170.20" y1="403.60" x2="170.20" y2="422.30" stroke="#44639e" stroke-width="1.0"/>
<line x1="166.70" y1="403.60" x2="173.70" y2="403.60" stroke="#44639e" stroke-width="1.0"/>
<line x1="166.70" y1="422.30" x2="173.70" y2="422.30" stroke="#44639e" stroke-width="1.0"/>
<circle cx="166.90" cy="406.80" r="2.05" fill="#22478a" stroke="#0a1224" stroke-width="0.7"/>
<circle cx="173.60" cy="403.40" r="2.05" fill="#22478a" stroke="#0a1224" stroke-width="0.7"/>
<circle cx="170.20" cy="417.50" r="2.05" fill="#22478a" stroke="#0a1224" stroke-width="0.7"/>
<circle cx="170.20" cy="424.40" r="2.05" fill="#22478a" stroke="#0a1224" stroke-width="0.7"/>
<line x1="191.20" y1="427.90" x2="191.20" y2="464.30" stroke="#c83a5c" stroke-width="1.0"/>
<line x1="187.50" y1="427.90" x2="194.90" y2="427.90" stroke="#c83a5c" stroke-width="1.0"/>
<line x1="187.50" y1="464.30" x2="194.90" y2="464.30" stroke="#c83a5c" stroke-width="1.0"/>
<circle cx="191.20" cy="424.40" r="2.05" fill="#bc0e2c" stroke="#2a0008" stroke-width="0.7"/>
<circle cx="191.20" cy="438.30" r="2.05" fill="#bc0e2c" stroke="#2a0008" stroke-width="0.7"/>
<circle cx="188.00" cy="460.70" r="2.05" fill="#bc0e2c" stroke="#2a0008" stroke-width="0.7"/>
<circle cx="194.50" cy="460.50" r="2.05" fill="#bc0e2c" stroke="#2a0008" stroke-width="0.7"/>
<line x1="212.00" y1="468.60" x2="212.00" y2="477.60" stroke="#78c858" stroke-width="1.0"/>
<line x1="208.70" y1="468.60" x2="215.30" y2="468.60" stroke="#78c858" stroke-width="1.0"/>
<line x1="208.70" y1="477.60" x2="215.30" y2="477.60" stroke="#78c858" stroke-width="1.0"/>
<circle cx="212.00" cy="469.50" r="2.05" fill="#62c23e" stroke="#0e1a08" stroke-width="0.7"/>
<circle cx="212.00" cy="476.70" r="2.05" fill="#62c23e" stroke="#0e1a08" stroke-width="0.7"/>
<text x="190.90" y="495.60" font-size="8.2" text-anchor="middle" fill="#1f1f1f" textLength="10.00" lengthAdjust="spacingAndGlyphs" stroke="#1f1f1f" stroke-width="0.18">LN</text>
<text x="139.00" y="428.90" font-size="9.6" text-anchor="middle" fill="#1f1f1f" textLength="94.50" lengthAdjust="spacingAndGlyphs" transform="rotate(-90 139.00 428.90)" stroke="#1f1f1f" stroke-width="0.18">% CD19<tspan dy="-3.6" font-size="7.2">+</tspan><tspan dy="3.6">IgM</tspan><tspan dy="-3.6" font-size="7.2">+</tspan><tspan dy="3.6">CD5</tspan><tspan dy="-3.6" font-size="6.2">low</tspan><tspan dy="3.6"> cells</tspan></text>
<line x1="279.70" y1="373.50" x2="279.70" y2="480.95" stroke="#1a1a1a" stroke-width="1.2"/>
<line x1="276.50" y1="480.45" x2="279.70" y2="480.45" stroke="#1a1a1a" stroke-width="1.0"/>
<text x="274.00" y="483.62" font-size="8.8" text-anchor="end" fill="#1f1f1f" stroke="#1f1f1f" stroke-width="0.18">0</text>
<line x1="276.50" y1="459.51" x2="279.70" y2="459.51" stroke="#1a1a1a" stroke-width="1.0"/>
<text x="274.00" y="462.68" font-size="8.8" text-anchor="end" fill="#1f1f1f" stroke="#1f1f1f" stroke-width="0.18">2</text>
<line x1="276.50" y1="438.57" x2="279.70" y2="438.57" stroke="#1a1a1a" stroke-width="1.0"/>
<text x="274.00" y="441.74" font-size="8.8" text-anchor="end" fill="#1f1f1f" stroke="#1f1f1f" stroke-width="0.18">4</text>
<line x1="276.50" y1="417.63" x2="279.70" y2="417.63" stroke="#1a1a1a" stroke-width="1.0"/>
<text x="274.00" y="420.80" font-size="8.8" text-anchor="end" fill="#1f1f1f" stroke="#1f1f1f" stroke-width="0.18">6</text>
<line x1="276.50" y1="396.69" x2="279.70" y2="396.69" stroke="#1a1a1a" stroke-width="1.0"/>
<text x="274.00" y="399.86" font-size="8.8" text-anchor="end" fill="#1f1f1f" stroke="#1f1f1f" stroke-width="0.18">8</text>
<line x1="276.50" y1="375.75" x2="279.70" y2="375.75" stroke="#1a1a1a" stroke-width="1.0"/>
<text x="274.00" y="378.92" font-size="8.8" text-anchor="end" fill="#1f1f1f" stroke="#1f1f1f" stroke-width="0.18">10</text>
<line x1="279.10" y1="480.45" x2="342.90" y2="480.45" stroke="#1a1a1a" stroke-width="1.3"/>
<line x1="311.20" y1="480.45" x2="311.20" y2="483.55" stroke="#1a1a1a" stroke-width="1.0"/>
<rect x="283.00" y="439.60" width="14.00" height="40.25" fill="#c9c8cd"/>
<rect x="304.20" y="431.20" width="14.10" height="48.65" fill="#c9c8cd"/>
<rect x="325.00" y="464.80" width="13.80" height="15.05" fill="#c9c8cd"/>
<line x1="290.40" y1="422.90" x2="290.40" y2="455.20" stroke="#44639e" stroke-width="1.0"/>
<line x1="286.90" y1="422.90" x2="293.90" y2="422.90" stroke="#44639e" stroke-width="1.0"/>
<line x1="286.90" y1="455.20" x2="293.90" y2="455.20" stroke="#44639e" stroke-width="1.0"/>
<circle cx="290.40" cy="423.50" r="2.05" fill="#22478a" stroke="#0a1224" stroke-width="0.7"/>
<circle cx="290.40" cy="430.80" r="2.05" fill="#22478a" stroke="#0a1224" stroke-width="0.7"/>
<circle cx="290.40" cy="443.50" r="2.05" fill="#22478a" stroke="#0a1224" stroke-width="0.7"/>
<circle cx="290.40" cy="459.80" r="2.05" fill="#22478a" stroke="#0a1224" stroke-width="0.7"/>
<line x1="311.10" y1="415.10" x2="311.10" y2="446.50" stroke="#c83a5c" stroke-width="1.0"/>
<line x1="307.40" y1="415.10" x2="314.80" y2="415.10" stroke="#c83a5c" stroke-width="1.0"/>
<line x1="307.40" y1="446.50" x2="314.80" y2="446.50" stroke="#c83a5c" stroke-width="1.0"/>
<circle cx="308.10" cy="419.60" r="2.05" fill="#bc0e2c" stroke="#2a0008" stroke-width="0.7"/>
<circle cx="314.40" cy="417.70" r="2.05" fill="#bc0e2c" stroke="#2a0008" stroke-width="0.7"/>
<circle cx="311.20" cy="435.00" r="2.05" fill="#bc0e2c" stroke="#2a0008" stroke-width="0.7"/>
<circle cx="311.20" cy="451.70" r="2.05" fill="#bc0e2c" stroke="#2a0008" stroke-width="0.7"/>
<line x1="332.20" y1="462.70" x2="332.20" y2="468.10" stroke="#78c858" stroke-width="1.0"/>
<line x1="329.40" y1="462.70" x2="335.00" y2="462.70" stroke="#78c858" stroke-width="1.0"/>
<line x1="329.40" y1="468.10" x2="335.00" y2="468.10" stroke="#78c858" stroke-width="1.0"/>
<circle cx="328.80" cy="467.10" r="2.05" fill="#62c23e" stroke="#0e1a08" stroke-width="0.7"/>
<circle cx="335.00" cy="462.90" r="2.05" fill="#62c23e" stroke="#0e1a08" stroke-width="0.7"/>
<text x="311.10" y="494.10" font-size="8.6" text-anchor="middle" fill="#1f1f1f" textLength="12.10" lengthAdjust="spacingAndGlyphs" stroke="#1f1f1f" stroke-width="0.18">BM</text>
<text x="258.90" y="429.20" font-size="9.6" text-anchor="middle" fill="#1f1f1f" textLength="100.90" lengthAdjust="spacingAndGlyphs" transform="rotate(-90 258.90 429.20)" stroke="#1f1f1f" stroke-width="0.18">% CD19<tspan dy="-3.6" font-size="7.2">+</tspan><tspan dy="3.6">IgM</tspan><tspan dy="-3.6" font-size="7.2">+</tspan><tspan dy="3.6">CD5</tspan><tspan dy="-3.6" font-size="6.2">low</tspan><tspan dy="3.6"> cells</tspan></text>
<circle cx="344.80" cy="377.50" r="2.0" fill="#22478a" stroke="#0a1224" stroke-width="0.7"/>
<text x="350.20" y="380.00" font-size="7.6" fill="#1f1f1f" textLength="21.50" lengthAdjust="spacingAndGlyphs" stroke="#1f1f1f" stroke-width="0.18">ctr Ab</text>
<circle cx="344.80" cy="389.10" r="2.0" fill="#bc0e2c" stroke="#2a0008" stroke-width="0.7"/>
<text x="350.20" y="391.60" font-size="7.6" fill="#1f1f1f" textLength="25.40" lengthAdjust="spacingAndGlyphs" stroke="#1f1f1f" stroke-width="0.18">IL-9 Ab</text>
<circle cx="344.80" cy="400.90" r="2.0" fill="#62c23e" stroke="#0e1a08" stroke-width="0.7"/>
<text x="350.20" y="403.40" font-size="7.6" fill="#1f1f1f" textLength="36.50" lengthAdjust="spacingAndGlyphs" stroke="#1f1f1f" stroke-width="0.18">healthy ctr</text>
<text x="9.40" y="518.90" font-size="12.4" fill="#111" font-weight="bold" stroke="#111" stroke-width="0.3">F</text>
<text x="32.80" y="524.00" font-size="7.7" fill="#6a4896" font-style="italic" textLength="85.30" lengthAdjust="spacingAndGlyphs" stroke="#6a4896" stroke-width="0.12">*p=0.027 (1-way Anova)</text>
<line x1="43.50" y1="538.80" x2="43.50" y2="646.90" stroke="#1a1a1a" stroke-width="1.2"/>
<line x1="40.30" y1="646.30" x2="43.50" y2="646.30" stroke="#1a1a1a" stroke-width="1.0"/>
<text x="37.80" y="649.47" font-size="8.8" text-anchor="end" fill="#1f1f1f" stroke="#1f1f1f" stroke-width="0.18">0</text>
<line x1="40.30" y1="620.07" x2="43.50" y2="620.07" stroke="#1a1a1a" stroke-width="1.0"/>
<text x="37.80" y="623.24" font-size="8.8" text-anchor="end" fill="#1f1f1f" stroke="#1f1f1f" stroke-width="0.18">50</text>
<line x1="40.30" y1="593.84" x2="43.50" y2="593.84" stroke="#1a1a1a" stroke-width="1.0"/>
<text x="37.80" y="597.01" font-size="8.8" text-anchor="end" fill="#1f1f1f" stroke="#1f1f1f" stroke-width="0.18">100</text>
<line x1="40.30" y1="567.61" x2="43.50" y2="567.61" stroke="#1a1a1a" stroke-width="1.0"/>
<text x="37.80" y="570.78" font-size="8.8" text-anchor="end" fill="#1f1f1f" stroke="#1f1f1f" stroke-width="0.18">150</text>
<line x1="40.30" y1="541.38" x2="43.50" y2="541.38" stroke="#1a1a1a" stroke-width="1.0"/>
<text x="37.80" y="544.55" font-size="8.8" text-anchor="end" fill="#1f1f1f" stroke="#1f1f1f" stroke-width="0.18">200</text>
<line x1="42.90" y1="646.40" x2="107.50" y2="646.40" stroke="#1a1a1a" stroke-width="1.3"/>
<line x1="75.00" y1="646.40" x2="75.00" y2="649.50" stroke="#1a1a1a" stroke-width="1.0"/>
<rect x="47.30" y="597.80" width="13.80" height="48.00" fill="#c9c8cd"/>
<rect x="67.80" y="632.10" width="14.10" height="13.70" fill="#c9c8cd"/>
<rect x="89.20" y="639.80" width="13.70" height="6.00" fill="#c9c8cd"/>
<path d="M53.6 555.4 V540.0 H96.3 V592.3" stroke="#2a2a2a" stroke-width="1.0" fill="none"/>
<path d="M53.6 550.7 H75.0 V566.9" stroke="#2a2a2a" stroke-width="1.0" fill="none"/>
<text x="61.00" y="535.00" font-size="6.7" font-style="italic" textLength="29.70" lengthAdjust="spacingAndGlyphs" stroke="#222" stroke-width="0.18">*p=0.049</text>
<text x="55.30" y="547.30" font-size="6.7" font-style="italic" textLength="28.40" lengthAdjust="spacingAndGlyphs" stroke="#222" stroke-width="0.18">*p=0.047</text>
<line x1="53.60" y1="575.80" x2="53.60" y2="619.50" stroke="#44639e" stroke-width="1.0"/>
<line x1="50.00" y1="575.80" x2="57.20" y2="575.80" stroke="#44639e" stroke-width="1.0"/>
<line x1="50.00" y1="619.50" x2="57.20" y2="619.50" stroke="#44639e" stroke-width="1.0"/>
<circle cx="53.60" cy="571.60" r="2.05" fill="#22478a" stroke="#0a1224" stroke-width="0.7"/>
<circle cx="53.60" cy="590.20" r="2.05" fill="#22478a" stroke="#0a1224" stroke-width="0.7"/>
<circle cx="53.60" cy="607.30" r="2.05" fill="#22478a" stroke="#0a1224" stroke-width="0.7"/>
<circle cx="53.60" cy="622.20" r="2.05" fill="#22478a" stroke="#0a1224" stroke-width="0.7"/>
<line x1="75.00" y1="620.10" x2="75.00" y2="644.60" stroke="#c83a5c" stroke-width="1.0"/>
<line x1="71.40" y1="620.10" x2="78.60" y2="620.10" stroke="#c83a5c" stroke-width="1.0"/>
<line x1="71.40" y1="644.60" x2="78.60" y2="644.60" stroke="#c83a5c" stroke-width="1.0"/>
<circle cx="75.00" cy="614.00" r="2.05" fill="#bc0e2c" stroke="#2a0008" stroke-width="0.7"/>
<circle cx="70.40" cy="635.00" r="2.05" fill="#bc0e2c" stroke="#2a0008" stroke-width="0.7"/>
<circle cx="75.00" cy="640.00" r="2.05" fill="#bc0e2c" stroke="#2a0008" stroke-width="0.7"/>
<circle cx="78.80" cy="639.00" r="2.05" fill="#bc0e2c" stroke="#2a0008" stroke-width="0.7"/>
<line x1="92.40" y1="640.00" x2="98.60" y2="638.80" stroke="#78c858" stroke-width="1.0"/>
<circle cx="92.40" cy="640.00" r="2.05" fill="#62c23e" stroke="#0e1a08" stroke-width="0.7"/>
<circle cx="98.60" cy="638.80" r="2.05" fill="#62c23e" stroke="#0e1a08" stroke-width="0.7"/>
<text x="75.00" y="659.50" font-size="8.2" text-anchor="middle" fill="#1f1f1f" textLength="26.50" lengthAdjust="spacingAndGlyphs" stroke="#1f1f1f" stroke-width="0.18">Spleen</text>
<text x="17.50" y="592.50" font-size="10.2" text-anchor="middle" fill="#1f1f1f" textLength="32.60" lengthAdjust="spacingAndGlyphs" transform="rotate(-90 17.50 592.50)" stroke="#1f1f1f" stroke-width="0.18">MFI CCL2</text>
<text x="147.50" y="523.75" font-size="7.7" fill="#6a4896" font-style="italic" textLength="92.50" lengthAdjust="spacingAndGlyphs" stroke="#6a4896" stroke-width="0.12">**p=0.0024 (1-way Anova)</text>
<line x1="159.70" y1="538.80" x2="159.70" y2="646.80" stroke="#1a1a1a" stroke-width="1.2"/>
<line x1="156.50" y1="646.30" x2="159.70" y2="646.30" stroke="#1a1a1a" stroke-width="1.0"/>
<text x="154.00" y="649.47" font-size="8.8" text-anchor="end" fill="#1f1f1f" stroke="#1f1f1f" stroke-width="0.18">0</text>
<line x1="156.50" y1="620.16" x2="159.70" y2="620.16" stroke="#1a1a1a" stroke-width="1.0"/>
<text x="154.00" y="623.33" font-size="8.8" text-anchor="end" fill="#1f1f1f" stroke="#1f1f1f" stroke-width="0.18">1</text>
<line x1="156.50" y1="594.02" x2="159.70" y2="594.02" stroke="#1a1a1a" stroke-width="1.0"/>
<text x="154.00" y="597.19" font-size="8.8" text-anchor="end" fill="#1f1f1f" stroke="#1f1f1f" stroke-width="0.18">2</text>
<line x1="156.50" y1="567.88" x2="159.70" y2="567.88" stroke="#1a1a1a" stroke-width="1.0"/>
<text x="154.00" y="571.05" font-size="8.8" text-anchor="end" fill="#1f1f1f" stroke="#1f1f1f" stroke-width="0.18">3</text>
<line x1="156.50" y1="541.74" x2="159.70" y2="541.74" stroke="#1a1a1a" stroke-width="1.0"/>
<text x="154.00" y="544.91" font-size="8.8" text-anchor="end" fill="#1f1f1f" stroke="#1f1f1f" stroke-width="0.18">4</text>
<line x1="159.10" y1="646.30" x2="222.50" y2="646.30" stroke="#1a1a1a" stroke-width="1.3"/>
<line x1="170.00" y1="646.30" x2="170.00" y2="649.40" stroke="#1a1a1a" stroke-width="1.0"/>
<line x1="191.30" y1="646.30" x2="191.30" y2="649.40" stroke="#1a1a1a" stroke-width="1.0"/>
<line x1="212.00" y1="646.30" x2="212.00" y2="649.40" stroke="#1a1a1a" stroke-width="1.0"/>
<rect x="163.00" y="590.50" width="14.00" height="55.20" fill="#c9c8cd"/>
<rect x="184.20" y="633.80" width="13.80" height="11.90" fill="#c9c8cd"/>
<rect x="205.00" y="641.20" width="14.20" height="4.50" fill="#c9c8cd"/>
<path d="M170.0 556.3 V541.3 H212.0 V593.0" stroke="#2a2a2a" stroke-width="1.0" fill="none"/>
<path d="M170.0 552.0 H191.8 V567.5" stroke="#2a2a2a" stroke-width="1.0" fill="none"/>
<text x="174.50" y="537.50" font-size="6.7" font-style="italic" textLength="35.00" lengthAdjust="spacingAndGlyphs" stroke="#222" stroke-width="0.18">**p=0.0058</text>
<text x="171.30" y="549.50" font-size="6.7" font-style="italic" textLength="35.00" lengthAdjust="spacingAndGlyphs" stroke="#222" stroke-width="0.18">**p=0.0046</text>
<line x1="170.50" y1="572.00" x2="170.50" y2="608.00" stroke="#44639e" stroke-width="1.0"/>
<line x1="167.00" y1="572.00" x2="174.00" y2="572.00" stroke="#44639e" stroke-width="1.0"/>
<line x1="167.00" y1="608.00" x2="174.00" y2="608.00" stroke="#44639e" stroke-width="1.0"/>
<circle cx="170.50" cy="570.50" r="2.05" fill="#22478a" stroke="#0a1224" stroke-width="0.7"/>
<circle cx="170.50" cy="579.50" r="2.05" fill="#22478a" stroke="#0a1224" stroke-width="0.7"/>
<circle cx="167.50" cy="606.70" r="2.05" fill="#22478a" stroke="#0a1224" stroke-width="0.7"/>
<circle cx="173.20" cy="605.00" r="2.05" fill="#22478a" stroke="#0a1224" stroke-width="0.7"/>
<line x1="191.30" y1="628.00" x2="191.30" y2="639.30" stroke="#c83a5c" stroke-width="1.0"/>
<line x1="187.80" y1="628.00" x2="194.80" y2="628.00" stroke="#c83a5c" stroke-width="1.0"/>
<line x1="187.80" y1="639.30" x2="194.80" y2="639.30" stroke="#c83a5c" stroke-width="1.0"/>
<circle cx="188.00" cy="627.50" r="2.05" fill="#bc0e2c" stroke="#2a0008" stroke-width="0.7"/>
<circle cx="194.50" cy="633.70" r="2.05" fill="#bc0e2c" stroke="#2a0008" stroke-width="0.7"/>
<circle cx="197.50" cy="631.70" r="2.05" fill="#bc0e2c" stroke="#2a0008" stroke-width="0.7"/>
<circle cx="188.00" cy="640.00" r="2.05" fill="#bc0e2c" stroke="#2a0008" stroke-width="0.7"/>
<line x1="212.00" y1="637.00" x2="212.00" y2="644.50" stroke="#78c858" stroke-width="1.0"/>
<line x1="208.80" y1="637.00" x2="215.20" y2="637.00" stroke="#78c858" stroke-width="1.0"/>
<line x1="208.80" y1="644.50" x2="215.20" y2="644.50" stroke="#78c858" stroke-width="1.0"/>
<circle cx="208.80" cy="643.70" r="2.05" fill="#62c23e" stroke="#0e1a08" stroke-width="0.7"/>
<circle cx="215.00" cy="638.00" r="2.05" fill="#62c23e" stroke="#0e1a08" stroke-width="0.7"/>
<text x="191.30" y="658.80" font-size="8.2" text-anchor="middle" fill="#1f1f1f" textLength="25.00" lengthAdjust="spacingAndGlyphs" stroke="#1f1f1f" stroke-width="0.18">Spleen</text>
<text x="143.20" y="592.20" font-size="10.2" text-anchor="middle" fill="#1f1f1f" textLength="42.70" lengthAdjust="spacingAndGlyphs" transform="rotate(-90 143.20 592.20)" stroke="#1f1f1f" stroke-width="0.18">CCL2 mRNA</text>
<text x="246.10" y="518.80" font-size="12.4" fill="#111" font-weight="bold" stroke="#111" stroke-width="0.3">G</text>
<text x="269.60" y="523.70" font-size="7.7" fill="#6a4896" font-style="italic" textLength="84.80" lengthAdjust="spacingAndGlyphs" stroke="#6a4896" stroke-width="0.12">*p=0.021 (1-way Anova)</text>
<line x1="279.70" y1="538.80" x2="279.70" y2="646.80" stroke="#1a1a1a" stroke-width="1.2"/>
<line x1="276.50" y1="646.30" x2="279.70" y2="646.30" stroke="#1a1a1a" stroke-width="1.0"/>
<text x="274.00" y="649.47" font-size="8.8" text-anchor="end" fill="#1f1f1f" stroke="#1f1f1f" stroke-width="0.18">0</text>
<line x1="276.50" y1="625.38" x2="279.70" y2="625.38" stroke="#1a1a1a" stroke-width="1.0"/>
<text x="274.00" y="628.55" font-size="8.8" text-anchor="end" fill="#1f1f1f" stroke="#1f1f1f" stroke-width="0.18">10</text>
<line x1="276.50" y1="604.46" x2="279.70" y2="604.46" stroke="#1a1a1a" stroke-width="1.0"/>
<text x="274.00" y="607.63" font-size="8.8" text-anchor="end" fill="#1f1f1f" stroke="#1f1f1f" stroke-width="0.18">20</text>
<line x1="276.50" y1="583.54" x2="279.70" y2="583.54" stroke="#1a1a1a" stroke-width="1.0"/>
<text x="274.00" y="586.71" font-size="8.8" text-anchor="end" fill="#1f1f1f" stroke="#1f1f1f" stroke-width="0.18">30</text>
<line x1="276.50" y1="562.62" x2="279.70" y2="562.62" stroke="#1a1a1a" stroke-width="1.0"/>
<text x="274.00" y="565.79" font-size="8.8" text-anchor="end" fill="#1f1f1f" stroke="#1f1f1f" stroke-width="0.18">40</text>
<line x1="276.50" y1="541.70" x2="279.70" y2="541.70" stroke="#1a1a1a" stroke-width="1.0"/>
<text x="274.00" y="544.87" font-size="8.8" text-anchor="end" fill="#1f1f1f" stroke="#1f1f1f" stroke-width="0.18">50</text>
<line x1="279.10" y1="646.30" x2="342.90" y2="646.30" stroke="#1a1a1a" stroke-width="1.3"/>
<line x1="311.40" y1="646.30" x2="311.40" y2="649.40" stroke="#1a1a1a" stroke-width="1.0"/>
<rect x="283.60" y="586.70" width="13.50" height="59.00" fill="#c9c8cd"/>
<rect x="304.60" y="617.90" width="13.50" height="27.80" fill="#c9c8cd"/>
<rect x="325.40" y="626.50" width="13.40" height="19.20" fill="#c9c8cd"/>
<path d="M290.3 552.5 V540.4 H332.4 V591.5" stroke="#2a2a2a" stroke-width="1.0" fill="none"/>
<path d="M290.3 550.6 H311.4 V566.8" stroke="#2a2a2a" stroke-width="1.0" fill="none"/>
<text x="297.90" y="535.00" font-size="6.7" font-style="italic" textLength="27.70" lengthAdjust="spacingAndGlyphs" stroke="#222" stroke-width="0.18">*p=0.034</text>
<text x="292.00" y="547.40" font-size="6.7" font-style="italic" textLength="27.40" lengthAdjust="spacingAndGlyphs" stroke="#222" stroke-width="0.18">*p=0.043</text>
<line x1="290.30" y1="567.30" x2="290.30" y2="606.40" stroke="#44639e" stroke-width="1.0"/>
<line x1="286.70" y1="567.30" x2="293.90" y2="567.30" stroke="#44639e" stroke-width="1.0"/>
<line x1="286.70" y1="606.40" x2="293.90" y2="606.40" stroke="#44639e" stroke-width="1.0"/>
<circle cx="290.30" cy="560.60" r="2.05" fill="#22478a" stroke="#0a1224" stroke-width="0.7"/>
<circle cx="290.30" cy="584.80" r="2.05" fill="#22478a" stroke="#0a1224" stroke-width="0.7"/>
<circle cx="293.80" cy="598.30" r="2.05" fill="#22478a" stroke="#0a1224" stroke-width="0.7"/>
<circle cx="287.70" cy="604.20" r="2.05" fill="#22478a" stroke="#0a1224" stroke-width="0.7"/>
<line x1="311.40" y1="609.00" x2="311.40" y2="626.00" stroke="#c83a5c" stroke-width="1.0"/>
<line x1="308.00" y1="609.00" x2="314.80" y2="609.00" stroke="#c83a5c" stroke-width="1.0"/>
<line x1="308.00" y1="626.00" x2="314.80" y2="626.00" stroke="#c83a5c" stroke-width="1.0"/>
<circle cx="311.40" cy="605.00" r="2.05" fill="#bc0e2c" stroke="#2a0008" stroke-width="0.7"/>
<circle cx="311.40" cy="617.90" r="2.05" fill="#bc0e2c" stroke="#2a0008" stroke-width="0.7"/>
<circle cx="314.90" cy="622.50" r="2.05" fill="#bc0e2c" stroke="#2a0008" stroke-width="0.7"/>
<circle cx="308.70" cy="625.20" r="2.05" fill="#bc0e2c" stroke="#2a0008" stroke-width="0.7"/>
<line x1="332.10" y1="619.30" x2="332.10" y2="633.80" stroke="#78c858" stroke-width="1.0"/>
<line x1="328.70" y1="619.30" x2="335.50" y2="619.30" stroke="#78c858" stroke-width="1.0"/>
<line x1="328.70" y1="633.80" x2="335.50" y2="633.80" stroke="#78c858" stroke-width="1.0"/>
<circle cx="332.10" cy="621.20" r="2.05" fill="#62c23e" stroke="#0e1a08" stroke-width="0.7"/>
<circle cx="332.10" cy="631.90" r="2.05" fill="#62c23e" stroke="#0e1a08" stroke-width="0.7"/>
<text x="311.40" y="660.20" font-size="8.2" text-anchor="middle" fill="#1f1f1f" textLength="10.70" lengthAdjust="spacingAndGlyphs" stroke="#1f1f1f" stroke-width="0.18">LN</text>
<text x="258.50" y="592.80" font-size="10.2" text-anchor="middle" fill="#1f1f1f" textLength="32.30" lengthAdjust="spacingAndGlyphs" transform="rotate(-90 258.50 592.80)" stroke="#1f1f1f" stroke-width="0.18">MFI CCL2</text>
<text x="386.20" y="523.90" font-size="7.7" fill="#6a4896" font-style="italic" textLength="88.30" lengthAdjust="spacingAndGlyphs" stroke="#6a4896" stroke-width="0.12">**p=0.012 (1-way Anova)</text>
<line x1="398.30" y1="538.80" x2="398.30" y2="646.90" stroke="#1a1a1a" stroke-width="1.2"/>
<line x1="395.10" y1="646.40" x2="398.30" y2="646.40" stroke="#1a1a1a" stroke-width="1.0"/>
<text x="392.60" y="649.57" font-size="8.8" text-anchor="end" fill="#1f1f1f" stroke="#1f1f1f" stroke-width="0.18">0</text>
<line x1="395.10" y1="611.45" x2="398.30" y2="611.45" stroke="#1a1a1a" stroke-width="1.0"/>
<text x="392.60" y="614.62" font-size="8.8" text-anchor="end" fill="#1f1f1f" stroke="#1f1f1f" stroke-width="0.18">1</text>
<line x1="395.10" y1="576.50" x2="398.30" y2="576.50" stroke="#1a1a1a" stroke-width="1.0"/>
<text x="392.60" y="579.67" font-size="8.8" text-anchor="end" fill="#1f1f1f" stroke="#1f1f1f" stroke-width="0.18">2</text>
<line x1="395.10" y1="541.55" x2="398.30" y2="541.55" stroke="#1a1a1a" stroke-width="1.0"/>
<text x="392.60" y="544.72" font-size="8.8" text-anchor="end" fill="#1f1f1f" stroke="#1f1f1f" stroke-width="0.18">3</text>
<line x1="397.70" y1="646.40" x2="459.10" y2="646.40" stroke="#1a1a1a" stroke-width="1.3"/>
<line x1="408.70" y1="646.40" x2="408.70" y2="649.50" stroke="#1a1a1a" stroke-width="1.0"/>
<line x1="429.70" y1="646.40" x2="429.70" y2="649.50" stroke="#1a1a1a" stroke-width="1.0"/>
<line x1="450.50" y1="646.40" x2="450.50" y2="649.50" stroke="#1a1a1a" stroke-width="1.0"/>
<rect x="401.90" y="594.20" width="13.70" height="51.60" fill="#c9c8cd"/>
<rect x="422.80" y="637.90" width="13.60" height="7.90" fill="#c9c8cd"/>
<rect x="443.40" y="640.00" width="13.70" height="5.80" fill="#c9c8cd"/>
<path d="M408.7 567.3 V548.6 H450.5 V555.8" stroke="#2a2a2a" stroke-width="1.0" fill="none"/>
<path d="M408.7 561.9 H429.7 V590.5" stroke="#2a2a2a" stroke-width="1.0" fill="none"/>
<path d="M429.7 570.3 H450.5 V611.7" stroke="#2a2a2a" stroke-width="1.0" fill="none"/>
<text x="416.80" y="545.70" font-size="6.7" font-style="italic" textLength="27.60" lengthAdjust="spacingAndGlyphs" stroke="#222" stroke-width="0.18">*p=0.044</text>
<text x="409.50" y="558.60" font-size="6.7" font-style="italic" textLength="27.90" lengthAdjust="spacingAndGlyphs" stroke="#222" stroke-width="0.18">*p=0.014</text>
<text x="431.30" y="567.90" font-size="6.7" font-style="italic" textLength="28.70" lengthAdjust="spacingAndGlyphs" stroke="#222" stroke-width="0.18">*p=0.014</text>
<line x1="408.70" y1="580.80" x2="408.70" y2="607.70" stroke="#44639e" stroke-width="1.0"/>
<line x1="405.20" y1="580.80" x2="412.20" y2="580.80" stroke="#44639e" stroke-width="1.0"/>
<line x1="405.20" y1="607.70" x2="412.20" y2="607.70" stroke="#44639e" stroke-width="1.0"/>
<circle cx="408.70" cy="576.80" r="2.05" fill="#22478a" stroke="#0a1224" stroke-width="0.7"/>
<circle cx="405.10" cy="592.90" r="2.05" fill="#22478a" stroke="#0a1224" stroke-width="0.7"/>
<circle cx="412.10" cy="599.00" r="2.05" fill="#22478a" stroke="#0a1224" stroke-width="0.7"/>
<circle cx="408.70" cy="608.70" r="2.05" fill="#22478a" stroke="#0a1224" stroke-width="0.7"/>
<line x1="429.70" y1="631.90" x2="429.70" y2="644.00" stroke="#c83a5c" stroke-width="1.0"/>
<line x1="426.40" y1="631.90" x2="433.00" y2="631.90" stroke="#c83a5c" stroke-width="1.0"/>
<line x1="426.40" y1="644.00" x2="433.00" y2="644.00" stroke="#c83a5c" stroke-width="1.0"/>
<circle cx="426.30" cy="631.90" r="2.05" fill="#bc0e2c" stroke="#2a0008" stroke-width="0.7"/>
<circle cx="432.70" cy="633.90" r="2.05" fill="#bc0e2c" stroke="#2a0008" stroke-width="0.7"/>
<circle cx="432.70" cy="640.60" r="2.05" fill="#bc0e2c" stroke="#2a0008" stroke-width="0.7"/>
<circle cx="426.30" cy="645.00" r="2.05" fill="#bc0e2c" stroke="#2a0008" stroke-width="0.7"/>
<line x1="450.50" y1="636.90" x2="450.50" y2="643.40" stroke="#78c858" stroke-width="1.0"/>
<line x1="447.50" y1="636.90" x2="453.50" y2="636.90" stroke="#78c858" stroke-width="1.0"/>
<line x1="447.50" y1="643.40" x2="453.50" y2="643.40" stroke="#78c858" stroke-width="1.0"/>
<circle cx="447.00" cy="642.60" r="2.05" fill="#62c23e" stroke="#0e1a08" stroke-width="0.7"/>
<circle cx="453.50" cy="637.30" r="2.05" fill="#62c23e" stroke="#0e1a08" stroke-width="0.7"/>
<text x="429.70" y="660.00" font-size="8.6" text-anchor="middle" fill="#1f1f1f" textLength="10.40" lengthAdjust="spacingAndGlyphs" stroke="#1f1f1f" stroke-width="0.18">LN</text>
<text x="382.30" y="592.60" font-size="10.2" text-anchor="middle" fill="#1f1f1f" textLength="42.70" lengthAdjust="spacingAndGlyphs" transform="rotate(-90 382.30 592.60)" stroke="#1f1f1f" stroke-width="0.18">CCL2 mRNA</text>
<circle cx="465.60" cy="540.60" r="2.0" fill="#22478a" stroke="#0a1224" stroke-width="0.7"/>
<text x="471.00" y="543.10" font-size="7.6" fill="#1f1f1f" textLength="21.50" lengthAdjust="spacingAndGlyphs" stroke="#1f1f1f" stroke-width="0.18">ctr Ab</text>
<circle cx="465.60" cy="552.50" r="2.0" fill="#bc0e2c" stroke="#2a0008" stroke-width="0.7"/>
<text x="471.00" y="555.00" font-size="7.6" fill="#1f1f1f" textLength="25.40" lengthAdjust="spacingAndGlyphs" stroke="#1f1f1f" stroke-width="0.18">IL-9 Ab</text>
<circle cx="465.60" cy="564.00" r="2.0" fill="#62c23e" stroke="#0e1a08" stroke-width="0.7"/>
<text x="471.00" y="566.50" font-size="7.6" fill="#1f1f1f" textLength="36.50" lengthAdjust="spacingAndGlyphs" stroke="#1f1f1f" stroke-width="0.18">healthy ctr</text>
<rect x="0.5" y="0.5" width="519" height="668" fill="none" stroke="#000" stroke-width="1.2"/>
</svg></body></html>
